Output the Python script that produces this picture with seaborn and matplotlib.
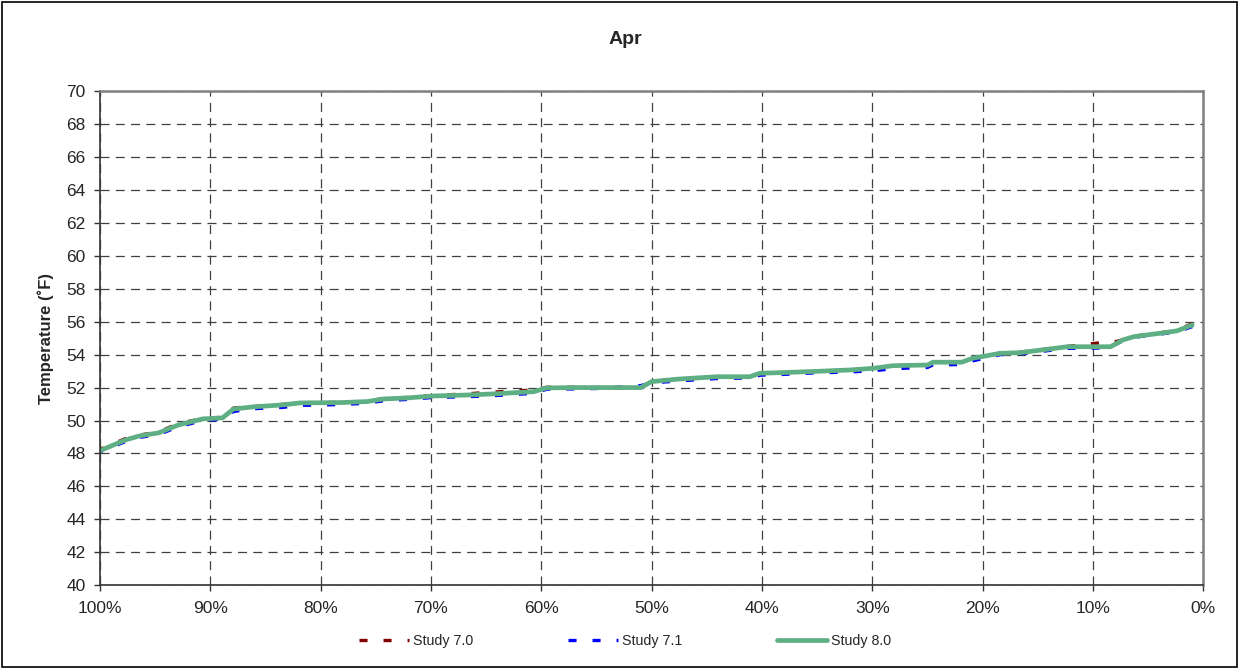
import matplotlib
matplotlib.use("Agg")
import matplotlib.pyplot as plt
import seaborn as sns
import pandas as pd
from matplotlib.patches import Rectangle
from matplotlib.ticker import FuncFormatter, MultipleLocator

# ---- data ----
pct = [100, 97.7, 96.4, 94.7, 92.9, 90.7, 88.9, 87.9, 86.1, 83.4,
       81.9, 78.2, 75.8, 74.3, 72.2, 69.8, 66.7, 64.6, 60.7, 59.5,
       57.1, 54.7, 51.0, 50.0, 47.7, 44.1, 41.1, 40.2, 38.1, 35.6,
       32.0, 29.9, 28.1, 25.0, 24.5, 21.9, 20.9, 18.4, 16.6, 12.3,
       9.3, 8.4, 7.3, 6.3, 3.9, 2.4, 1.0]
study_70 = [48.25, 48.90, 49.12, 49.30, 49.82, 50.12, 50.20, 50.76, 50.86, 50.98,
            51.08, 51.10, 51.17, 51.33, 51.40, 51.52, 51.62, 51.72, 51.85, 52.02,
            52.02, 52.00, 52.00, 52.36, 52.51, 52.66, 52.66, 52.87, 52.91, 52.97,
            53.07, 53.17, 53.33, 53.37, 53.54, 53.54, 53.78, 54.10, 54.15, 54.50,
            54.72, 54.72, 54.89, 55.12, 55.32, 55.47, 55.88]
study_71 = [48.10, 48.72, 48.98, 49.15, 49.62, 50.00, 50.08, 50.55, 50.72, 50.80,
            50.92, 50.97, 51.05, 51.20, 51.28, 51.40, 51.45, 51.50, 51.65, 51.90,
            51.92, 51.95, 52.12, 52.28, 52.40, 52.55, 52.58, 52.75, 52.80, 52.88,
            52.95, 53.02, 53.15, 53.22, 53.38, 53.40, 53.62, 54.00, 54.05, 54.38,
            54.40, 54.45, 54.85, 55.05, 55.25, 55.38, 55.70]
study_80 = [48.17, 48.82, 49.07, 49.25, 49.73, 50.10, 50.16, 50.70, 50.83, 50.95,
            51.07, 51.09, 51.15, 51.31, 51.37, 51.49, 51.55, 51.61, 51.75, 51.98,
            52.00, 52.00, 52.00, 52.36, 52.51, 52.66, 52.66, 52.87, 52.91, 52.97,
            53.07, 53.17, 53.33, 53.37, 53.54, 53.54, 53.78, 54.08, 54.12, 54.48,
            54.48, 54.48, 54.89, 55.09, 55.30, 55.44, 55.80]
series_names = ["Study 7.0", "Study 7.1", "Study 8.0"]
title = "Apr"
ylabel = "Temperature (˚F)"

# ---- style ----
sns.set_style("white")
plt.rcParams["font.family"] = ["Liberation Sans", "DejaVu Sans"]
plt.rcParams["lines.scale_dashes"] = False

fig = plt.figure(figsize=(12.38, 6.68), dpi=100)
ax = fig.add_axes([100 / 1238, 1 - 585.3 / 668, 1103.3 / 1238, 494.3 / 668])

df = pd.DataFrame({"pct": pct, "s70": study_70, "s71": study_71, "s80": study_80})
sns.lineplot(data=df, x="pct", y="s70", ax=ax, color="#800000", linewidth=2.4,
             linestyle=(0, (5.8, 11.5)), label=series_names[0])
sns.lineplot(data=df, x="pct", y="s71", ax=ax, color="#0000FF", linewidth=2.4,
             linestyle=(0, (5.8, 11.5)), label=series_names[1])
sns.lineplot(data=df, x="pct", y="s80", ax=ax, color="#5FAF85", linewidth=3.4,
             label=series_names[2])

ax.set_xlim(100, 0)
ax.set_ylim(40, 70)
ax.xaxis.set_major_locator(MultipleLocator(10))
ax.yaxis.set_major_locator(MultipleLocator(2))
ax.xaxis.set_major_formatter(FuncFormatter(lambda v, p: f"{int(round(v))}%"))
ax.yaxis.set_major_formatter(FuncFormatter(lambda v, p: f"{int(round(v))}"))
ax.grid(True, color="#404040", linewidth=0.9, linestyle=(0, (6.5, 4.5)))
ax.set_xlabel("")
ax.set_ylabel(ylabel, fontsize=12, fontweight="bold", labelpad=9)
ax.tick_params(axis="both", which="major", direction="out", length=4.5, width=1,
               color="#333333", labelsize=12.5, pad=6, bottom=True, left=True)
ax.tick_params(axis="x", pad=7)

for side in ["left", "bottom"]:
    ax.spines[side].set_color("#333333")
    ax.spines[side].set_linewidth(1.2)
for side in ["top", "right"]:
    ax.spines[side].set_color("#808080")
    ax.spines[side].set_linewidth(1.8)

ax.legend_.remove()
handles, labels = ax.get_legend_handles_labels()
fig.legend(handles, labels, loc="center", bbox_to_anchor=(625 / 1238, 1 - 641 / 668),
           ncol=3, frameon=False, fontsize=10.3, handlelength=3.5, columnspacing=6.6,
           handletextpad=0.3)

fig.text(0.505, 1 - 40 / 668, title, ha="center", va="center", fontsize=14,
         fontweight="bold")

fig.patches.append(Rectangle((1.5 / 1238, 1.5 / 668), 1 - 3 / 1238, 1 - 3 / 668,
                             transform=fig.transFigure, fill=False,
                             edgecolor="black", linewidth=1.2))

fig.savefig("out.png", dpi=100)
